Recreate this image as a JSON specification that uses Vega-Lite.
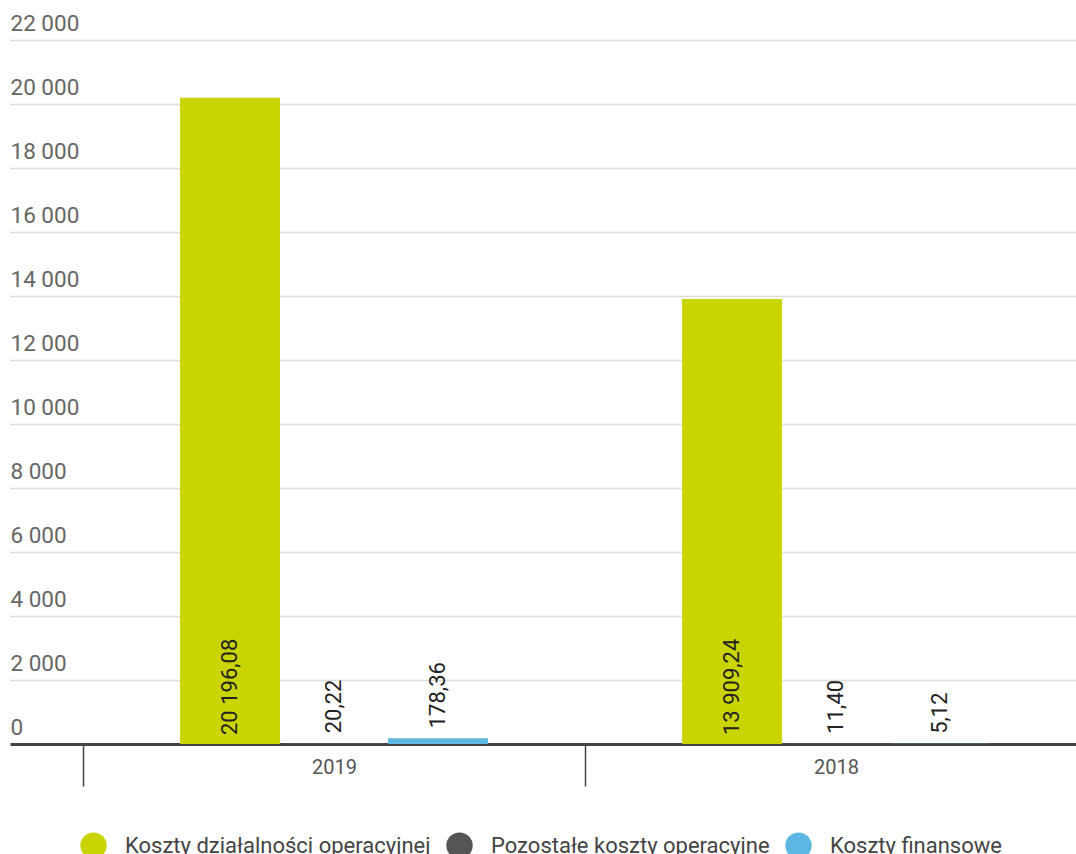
{
  "$schema": "https://vega.github.io/schema/vega-lite/v6.json",
  "width": 1066,
  "height": 704,
  "autosize": {"type": "none"},
  "padding": {"left": 10, "top": 40, "right": 0, "bottom": 110},
  "background": "white",
  "config": {
    "font": "Roboto",
    "view": {"stroke": null},
    "locale": {
      "number": {"decimal": ",", "thousands": " ", "grouping": [3], "currency": ["", " zł"]}
    }
  },
  "data": {
    "values": [
      {"rok": "2019", "seria": "Koszty działalności operacyjnej", "wartosc": 20196.08},
      {"rok": "2019", "seria": "Pozostałe koszty operacyjne", "wartosc": 20.22},
      {"rok": "2019", "seria": "Koszty finansowe", "wartosc": 178.36},
      {"rok": "2018", "seria": "Koszty działalności operacyjnej", "wartosc": 13909.24},
      {"rok": "2018", "seria": "Pozostałe koszty operacyjne", "wartosc": 11.40},
      {"rok": "2018", "seria": "Koszty finansowe", "wartosc": 5.12}
    ]
  },
  "encoding": {
    "x": {
      "field": "rok",
      "type": "nominal",
      "sort": ["2019", "2018"],
      "title": null,
      "scale": {"range": [0, 1150], "paddingInner": 0, "paddingOuter": 0.1454},
      "axis": {
        "tickBand": "extent",
        "tickSize": 42,
        "tickColor": "#444444",
        "tickWidth": 1.5,
        "domainColor": "#444444",
        "domainWidth": 3,
        "labelPadding": -29,
        "labelFontSize": 20,
        "labelColor": "#555555",
        "labelAngle": 0,
        "grid": false
      }
    },
    "xOffset": {
      "field": "seria",
      "type": "nominal",
      "sort": ["Koszty działalności operacyjnej", "Pozostałe koszty operacyjne", "Koszty finansowe"],
      "scale": {"paddingInner": 0.04, "paddingOuter": 0.934}
    }
  },
  "layer": [
    {
      "mark": {"type": "bar"},
      "encoding": {
        "y": {
          "field": "wartosc",
          "type": "quantitative",
          "title": null,
          "scale": {"domain": [0, 22000], "nice": false},
          "axis": {
            "values": [0, 2000, 4000, 6000, 8000, 10000, 12000, 14000, 16000, 18000, 20000, 22000],
            "format": ",d",
            "domain": false,
            "ticks": false,
            "tickSize": 0,
            "labelPadding": 0,
            "labelAlign": "left",
            "labelBaseline": "bottom",
            "labelOffset": -5,
            "labelFontSize": 22.5,
            "labelColor": "#666666",
            "gridColor": "#dddddd",
            "gridWidth": 1.5
          }
        },
        "color": {
          "field": "seria",
          "type": "nominal",
          "scale": {
            "domain": ["Koszty działalności operacyjnej", "Pozostałe koszty operacyjne", "Koszty finansowe"],
            "range": ["#c9d400", "#555555", "#5cb7e5"]
          },
          "legend": {
            "title": null,
            "orient": "none",
            "legendX": 70,
            "legendY": 792,
            "direction": "horizontal",
            "symbolType": "circle",
            "symbolSize": 700,
            "symbolStrokeWidth": 0,
            "symbolOpacity": 1,
            "labelFontSize": 22,
            "labelColor": "#444444",
            "labelOffset": 18,
            "columnPadding": 15,
            "padding": 0,
            "labelLimit": 0
          }
        }
      }
    },
    {
      "transform": [{"filter": "datum.seria == 'Koszty działalności operacyjnej'"}],
      "mark": {"type": "text", "angle": 270, "align": "left", "baseline": "middle", "dx": 9, "fontSize": 22, "color": "#222222"},
      "encoding": {
        "y": {"datum": 0, "type": "quantitative"},
        "text": {"field": "wartosc", "type": "quantitative", "format": ",.2f"}
      }
    },
    {
      "transform": [{"filter": "datum.seria != 'Koszty działalności operacyjnej'"}],
      "mark": {"type": "text", "angle": 270, "align": "left", "baseline": "middle", "dx": 10, "fontSize": 22, "color": "#222222"},
      "encoding": {
        "y": {"field": "wartosc", "type": "quantitative"},
        "text": {"field": "wartosc", "type": "quantitative", "format": ",.2f"}
      }
    }
  ]
}
